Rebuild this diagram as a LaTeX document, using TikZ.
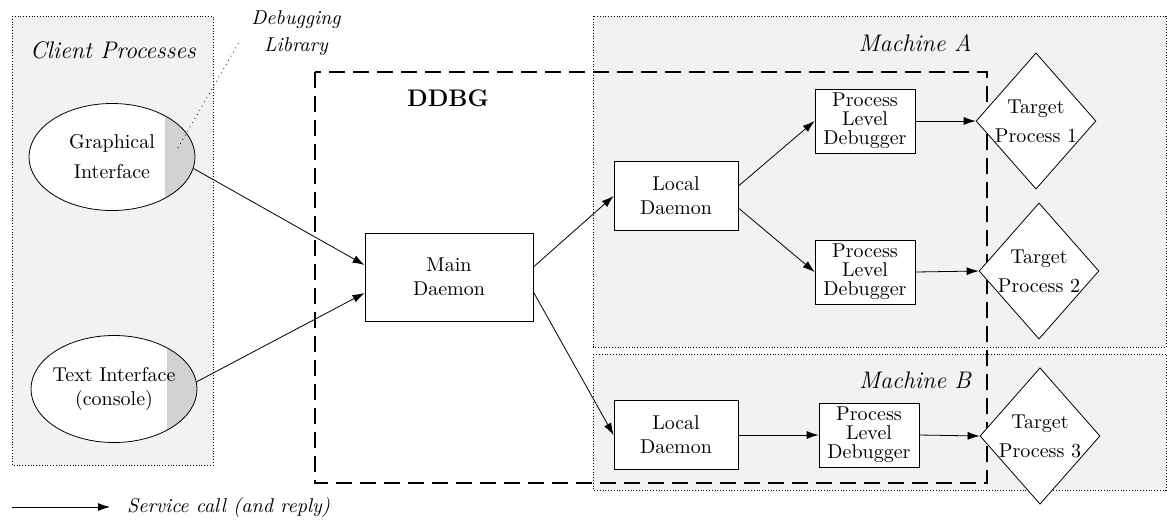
\documentclass[tikz,border=0pt]{standalone}
\usetikzlibrary{arrows.meta,shapes.geometric}
\tikzset{
  region/.style={densely dotted, fill=gray!10},
  box/.style={draw, fill=white, align=center, inner sep=1pt},
  client/.style={ellipse, draw, fill=white, align=center, inner sep=-4pt,
    minimum width=83pt, minimum height=53.5pt,
    path picture={\fill[gray!35] ([xshift=26.5pt]path picture bounding box.north)
      rectangle (path picture bounding box.south east);}},
  target/.style={diamond, draw, fill=white, align=center, inner sep=0pt,
    aspect=0.88, minimum width=58pt, minimum height=66pt},
  call/.style={-{Latex[length=6pt,width=4pt]}},
}

\begin{document}
\begin{tikzpicture}[x=0.5pt,y=-0.5pt]
    \useasboundingbox (0,0) rectangle (1167,521);

    % regions
    \draw[region] (12,16) rectangle (213,465);
    \draw[region] (593,16) rectangle (1166,347);
    \draw[region] (593,354) rectangle (1166,490);
    \draw[dash pattern=on 8pt off 4pt, line width=0.7pt] (315,72) rectangle (987,483);

    \node[font=\large\itshape] (clientlbl) at (113,50) {Client Processes};
    \node[font=\large\itshape] (machAlbl) at (915,43) {Machine A};
    \node[font=\large\itshape] (machBlbl) at (915,380) {Machine B};
    \node[font=\large\bfseries] (ddbglbl) at (448,98) {DDBG};

    % clients
    \node[client] (gui) at (112,157) {Graphical\\[3pt]Interface};
    \node[client] (tui) at (114,389) {Text Interface\\(console)};
    \node[font=\itshape, align=center] (dbglib) at (296,33) {Debugging\\[1.5pt]Library};
    \coordinate (dbghook) at (178,148);
    \draw[dotted, shorten >=5pt] (dbghook) -- (dbglib.west);

    % daemons
    \node[box, minimum width=84pt, minimum height=44pt] (main) at (449,277) {Main\\Daemon};
    \node[box, minimum width=62pt, minimum height=34.5pt] (localA) at (676,196) {Local\\Daemon};
    \node[box, minimum width=62pt, minimum height=34.5pt] (localB) at (676,435) {Local\\Daemon};

    \node[box, minimum width=50pt, minimum height=32pt] (pld1) at (865,121) {Process\\[-2.5pt]Level\\[-2.5pt]Debugger};
    \node[box, minimum width=50pt, minimum height=32pt] (pld2) at (865,272) {Process\\[-2.5pt]Level\\[-2.5pt]Debugger};
    \node[box, minimum width=50pt, minimum height=32pt] (pld3) at (869,435) {Process\\[-2.5pt]Level\\[-2.5pt]Debugger};

    \node[target] (t1) at (1036,121) {Target\\[2.5pt]Process 1};
    \node[target] (t2) at (1039,271) {Target\\[2.5pt]Process 2};
    \node[target] (t3) at (1040,436) {Target\\[2.5pt]Process 3};

    % calls
    \draw[call] (gui.-8) -- ([yshift=6pt]main.west);
    \draw[call] (tui.5) -- ([yshift=-8pt]main.west);
    \draw[call] ([yshift=5pt]main.east) -- (localA.west);
    \draw[call] ([yshift=-7.5pt]main.east) -- (localB.west);
    \draw[call] ([yshift=5pt]localA.east) -- (pld1.west);
    \draw[call] ([yshift=-6pt]localA.east) -- (pld2.west);
    \draw[call] (localB.east) -- (pld3.west);
    \draw[call] (pld1.east) -- (t1.west);
    \draw[call] (pld2.east) -- (t2.west);
    \draw[call] (pld3.east) -- (t3.west);

    % legend
    \coordinate (legfrom) at (12,507);
    \node[anchor=west, font=\itshape] (legtext) at (120,507) {Service call (and reply)};
    \draw[call, shorten >=5pt] (legfrom) -- (legtext.west);

  \end{tikzpicture}
\end{document}
